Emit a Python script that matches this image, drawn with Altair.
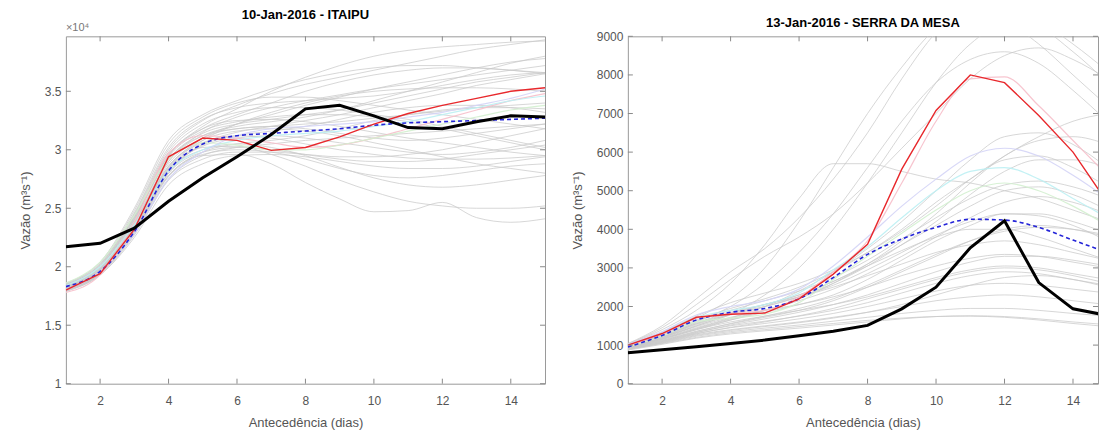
import altair as alt
import pandas as pd

FONT = "Liberation Sans"
DAYS = list(range(1, 16))
XTICKS = [2, 4, 6, 8, 10, 12, 14]

# ---------------- ITAIPU (units of 10^4 m3/s) ----------------
ita_title = "10-Jan-2016 - ITAIPU"
ita_yticks = [1, 1.5, 2, 2.5, 3, 3.5]
ita_black = [2.17, 2.20, 2.33, 2.56, 2.76, 2.94, 3.13, 3.35, 3.38, 3.29, 3.19, 3.18, 3.24, 3.29, 3.28]
ita_red = [1.80, 1.94, 2.32, 2.94, 3.10, 3.08, 2.995, 3.02, 3.11, 3.22, 3.31, 3.38, 3.44, 3.50, 3.53]
ita_blue = [1.83, 1.96, 2.30, 2.82, 3.05, 3.12, 3.14, 3.16, 3.18, 3.21, 3.23, 3.24, 3.25, 3.26, 3.27]
ita_gray = [
    [1.82, 1.98, 2.40, 2.95, 3.20, 3.35, 3.50, 3.62, 3.72, 3.80, 3.85, 3.88, 3.90, 3.92, 3.93],
    [1.85, 2.02, 2.45, 3.00, 3.25, 3.38, 3.48, 3.56, 3.62, 3.68, 3.74, 3.80, 3.86, 3.90, 3.94],
    [1.80, 1.95, 2.35, 2.85, 3.10, 3.22, 3.30, 3.38, 3.45, 3.52, 3.58, 3.64, 3.70, 3.75, 3.78],
    [1.83, 1.99, 2.38, 2.90, 3.15, 3.28, 3.36, 3.42, 3.47, 3.52, 3.56, 3.60, 3.64, 3.68, 3.72],
    [1.81, 1.96, 2.30, 2.80, 3.05, 3.15, 3.20, 3.25, 3.30, 3.36, 3.42, 3.48, 3.55, 3.60, 3.65],
    [1.84, 2.00, 2.42, 2.92, 3.12, 3.18, 3.20, 3.22, 3.24, 3.27, 3.30, 3.33, 3.36, 3.38, 3.40],
    [1.80, 1.94, 2.28, 2.75, 2.95, 3.02, 3.05, 3.08, 3.10, 3.12, 3.14, 3.16, 3.18, 3.20, 3.22],
    [1.86, 2.03, 2.48, 3.05, 3.28, 3.40, 3.45, 3.45, 3.42, 3.38, 3.34, 3.30, 3.26, 3.22, 3.18],
    [1.82, 1.97, 2.36, 2.86, 3.06, 3.12, 3.10, 3.05, 3.00, 2.96, 2.93, 2.92, 2.92, 2.93, 2.95],
    [1.79, 1.93, 2.25, 2.70, 2.88, 2.95, 2.96, 2.94, 2.90, 2.86, 2.84, 2.84, 2.86, 2.90, 2.94],
    [1.81, 1.95, 2.32, 2.82, 3.00, 3.05, 3.02, 2.95, 2.85, 2.76, 2.70, 2.68, 2.70, 2.74, 2.78],
    [1.83, 1.98, 2.36, 2.84, 3.02, 3.03, 2.96, 2.86, 2.74, 2.64, 2.56, 2.52, 2.50, 2.50, 2.52],
    [1.80, 1.94, 2.30, 2.78, 2.95, 2.96, 2.88, 2.72, 2.58, 2.47, 2.48, 2.55, 2.42, 2.38, 2.41],
    [1.82, 1.97, 2.34, 2.83, 3.03, 3.10, 3.12, 3.10, 3.06, 3.02, 2.98, 2.96, 2.98, 3.02, 3.08],
    [1.84, 2.01, 2.43, 2.96, 3.18, 3.25, 3.26, 3.24, 3.20, 3.15, 3.10, 3.06, 3.02, 2.98, 2.95],
    [1.81, 1.96, 2.33, 2.84, 3.08, 3.22, 3.32, 3.40, 3.46, 3.50, 3.52, 3.53, 3.53, 3.52, 3.50],
    [1.85, 2.02, 2.46, 3.02, 3.26, 3.36, 3.40, 3.42, 3.44, 3.46, 3.50, 3.55, 3.60, 3.64, 3.66],
    [1.83, 1.99, 2.40, 2.92, 3.14, 3.22, 3.26, 3.30, 3.34, 3.40, 3.46, 3.52, 3.58, 3.62, 3.66],
    [1.80, 1.95, 2.30, 2.78, 2.98, 3.05, 3.08, 3.12, 3.18, 3.25, 3.30, 3.34, 3.36, 3.36, 3.35],
    [1.82, 1.97, 2.37, 2.88, 3.10, 3.18, 3.20, 3.18, 3.14, 3.10, 3.08, 3.10, 3.14, 3.18, 3.22],
    [1.86, 2.04, 2.50, 3.08, 3.30, 3.42, 3.52, 3.60, 3.66, 3.70, 3.72, 3.72, 3.70, 3.68, 3.66],
    [1.84, 2.00, 2.41, 2.94, 3.16, 3.24, 3.28, 3.30, 3.30, 3.28, 3.24, 3.18, 3.12, 3.06, 3.00],
    [1.81, 1.95, 2.31, 2.80, 2.98, 3.02, 3.00, 2.96, 2.92, 2.90, 2.90, 2.92, 2.96, 3.00, 3.04],
    [1.79, 1.93, 2.27, 2.74, 2.92, 2.98, 2.98, 2.96, 2.94, 2.94, 2.96, 3.00, 3.06, 3.12, 3.18],
    [1.83, 1.98, 2.38, 2.90, 3.12, 3.20, 3.24, 3.28, 3.34, 3.42, 3.50, 3.58, 3.66, 3.74, 3.80],
    [1.85, 2.01, 2.44, 2.98, 3.22, 3.32, 3.36, 3.36, 3.34, 3.30, 3.26, 3.20, 3.14, 3.08, 3.02],
    [1.82, 1.97, 2.35, 2.86, 3.08, 3.16, 3.18, 3.16, 3.12, 3.06, 3.00, 2.94, 2.88, 2.84, 2.80],
    [1.80, 1.94, 2.29, 2.77, 2.96, 3.00, 2.98, 2.92, 2.84, 2.78, 2.76, 2.78, 2.82, 2.86, 2.88],
    [1.84, 2.00, 2.42, 2.95, 3.18, 3.30, 3.40, 3.50, 3.58, 3.64, 3.68, 3.70, 3.70, 3.68, 3.65],
    [1.81, 1.96, 2.33, 2.82, 3.04, 3.12, 3.16, 3.20, 3.26, 3.32, 3.36, 3.38, 3.38, 3.36, 3.32],
]
ita_pale = [
    [1.78, 1.93, 2.38, 2.97, 3.12, 3.10, 3.06, 3.02, 3.04, 3.10, 3.18, 3.26, 3.34, 3.42, 3.48],
    [1.84, 2.00, 2.36, 2.82, 3.00, 3.08, 3.12, 3.14, 3.16, 3.20, 3.24, 3.30, 3.36, 3.42, 3.46],
    [1.86, 2.04, 2.44, 2.92, 3.06, 3.04, 3.00, 3.00, 3.04, 3.10, 3.16, 3.22, 3.28, 3.34, 3.38],
    [1.80, 1.96, 2.28, 2.75, 2.98, 3.12, 3.18, 3.20, 3.22, 3.24, 3.28, 3.32, 3.38, 3.44, 3.52],
]

# ---------------- SERRA DA MESA (m3/s) ----------------
sm_title = "13-Jan-2016 - SERRA DA MESA"
sm_yticks = [0, 1000, 2000, 3000, 4000, 5000, 6000, 7000, 8000, 9000]
sm_black = [800, 880, 960, 1040, 1130, 1240, 1360, 1510, 1940, 2500, 3520, 4220, 2620, 1940, 1770]
sm_red = [1000, 1300, 1720, 1800, 1830, 2200, 2840, 3610, 5560, 7080, 8000, 7800, 6950, 6000, 4700]
sm_blue = [950, 1250, 1650, 1850, 1950, 2200, 2750, 3350, 3750, 4050, 4260, 4240, 4050, 3720, 3400]
sm_gray = [
    [950, 1200, 1500, 1800, 2300, 3000, 4000, 5200, 6500, 7800, 8800, 9300, 9200, 8600, 7800],
    [1000, 1300, 1700, 2200, 3000, 4200, 5600, 7000, 8200, 9200, 9600, 9400, 8800, 8000, 7200],
    [980, 1250, 1600, 2000, 2600, 3400, 4400, 5600, 6800, 7800, 8400, 8600, 8300, 7600, 6800],
    [1020, 1400, 1900, 2600, 3600, 4800, 5700, 5700, 5500, 5300, 5200, 5000, 4800, 4500, 4200],
    [960, 1180, 1450, 1700, 2000, 2400, 2900, 3500, 4200, 5000, 5800, 6400, 6500, 6200, 5600],
    [940, 1150, 1400, 1650, 1900, 2200, 2600, 3100, 3700, 4400, 5200, 5900, 6300, 6400, 6200],
    [1000, 1280, 1650, 1950, 2200, 2500, 2900, 3400, 4000, 4700, 5300, 5800, 5900, 5600, 5100],
    [970, 1220, 1550, 1800, 2050, 2300, 2650, 3100, 3600, 4100, 4600, 5000, 5100, 4900, 4500],
    [950, 1170, 1420, 1650, 1850, 2050, 2300, 2700, 3200, 3700, 4100, 4400, 4400, 4200, 3900],
    [930, 1130, 1360, 1550, 1720, 1900, 2150, 2500, 2900, 3300, 3700, 4000, 4100, 4000, 3800],
    [990, 1240, 1580, 1850, 2050, 2250, 2500, 2800, 3100, 3400, 3600, 3700, 3600, 3400, 3200],
    [960, 1190, 1480, 1720, 1900, 2050, 2250, 2500, 2800, 3050, 3250, 3350, 3300, 3150, 3000],
    [940, 1150, 1400, 1600, 1750, 1900, 2050, 2250, 2500, 2750, 2950, 3050, 3000, 2850, 2700],
    [920, 1110, 1330, 1500, 1620, 1750, 1900, 2100, 2350, 2600, 2800, 2900, 2850, 2700, 2550],
    [910, 1090, 1300, 1450, 1560, 1680, 1820, 2000, 2200, 2400, 2550, 2600, 2550, 2450, 2350],
    [900, 1070, 1270, 1400, 1500, 1600, 1720, 1850, 2000, 2150, 2250, 2300, 2250, 2150, 2050],
    [890, 1050, 1230, 1350, 1440, 1520, 1620, 1720, 1820, 1900, 1950, 1950, 1900, 1820, 1750],
    [880, 1040, 1200, 1320, 1400, 1480, 1560, 1640, 1700, 1740, 1750, 1720, 1650, 1560, 1480],
    [900, 1060, 1250, 1380, 1480, 1580, 1700, 1850, 2050, 2300, 2550, 2750, 2800, 2700, 2500],
    [1010, 1330, 1750, 2100, 2350, 2600, 2950, 3400, 3950, 4600, 5300, 5900, 6400, 6800, 7000],
    [970, 1210, 1530, 1800, 2000, 2250, 2600, 3050, 3600, 4200, 4900, 5500, 5800, 5800, 5600],
    [950, 1160, 1430, 1680, 1900, 2150, 2450, 2850, 3300, 3800, 4300, 4700, 4850, 4700, 4400],
    [1030, 1450, 2050, 2700, 3300, 3800, 4400, 5200, 6100, 7000, 7900, 8500, 8700, 8400, 7900],
    [990, 1260, 1620, 1900, 2150, 2400, 2750, 3200, 3750, 4300, 4800, 5150, 5250, 5100, 4800],
    [930, 1120, 1350, 1560, 1750, 1950, 2200, 2550, 2950, 3350, 3700, 3950, 4050, 4000, 3850],
    [920, 1100, 1320, 1520, 1680, 1850, 2050, 2300, 2600, 2900, 3150, 3300, 3300, 3200, 3050],
    [960, 1200, 1500, 1780, 2000, 2250, 2550, 2950, 3400, 3850, 4200, 4400, 4350, 4100, 3700],
    [1040, 1500, 2200, 2900, 3500, 4300, 5300, 6500, 7900, 9100, 9800, 9800, 9400, 8800, 8100],
    [980, 1230, 1560, 1830, 2050, 2300, 2650, 3050, 3450, 3800, 4000, 4000, 3800, 3500, 3200],
    [900, 1080, 1290, 1460, 1600, 1760, 1950, 2200, 2450, 2700, 2900, 3000, 2950, 2800, 2600],
    [870, 1020, 1180, 1290, 1370, 1440, 1520, 1600, 1680, 1740, 1760, 1740, 1680, 1600, 1530],
]
sm_pale = [
    [980, 1280, 1700, 1820, 1900, 2250, 2900, 3700, 5200, 6800, 7900, 7950, 7200, 6300, 5400],
    [1000, 1320, 1720, 1900, 2050, 2350, 2950, 3550, 4300, 5000, 5500, 5600, 5300, 4800, 4300],
    [950, 1230, 1600, 1700, 1800, 2100, 2700, 3300, 3900, 4500, 5000, 5200, 5000, 4600, 4100],
    [1020, 1350, 1780, 2000, 2150, 2450, 3050, 3800, 4600, 5300, 5900, 6100, 5900, 5400, 4800],
]
pale_colors = ["#f6bfca", "#bdeff3", "#d3efcf", "#d4d4f6"]

GRAY_TXT = "#555555"
H = 348


def long_df(lines, prefix):
    rows = []
    for i, vals in enumerate(lines):
        for d, v in zip(DAYS, vals):
            rows.append({"day": d, "v": v, "m": f"{prefix}{i}"})
    return pd.DataFrame(rows)


def panel(title, gray, pale, red, blue, black, ydomain, yticks, label_expr, xdomain, width, exp_label):
    xs = alt.Scale(domain=xdomain, nice=False, zero=False)
    ys = alt.Scale(domain=ydomain, nice=False, zero=False)
    xax = alt.Axis(values=XTICKS, title="Antecedência (dias)", ticks=False, domain=False, grid=False,
                   labelPadding=12, titlePadding=10, labelFontSize=12, titleFontSize=13,
                   labelColor=GRAY_TXT, titleColor=GRAY_TXT, labelFont=FONT, titleFont=FONT,
                   titleFontWeight="normal")
    yax = alt.Axis(values=yticks, title="Vazão (m³s⁻¹)", ticks=False, domain=False, grid=False,
                   labelPadding=5, titlePadding=12, labelFontSize=12, titleFontSize=13,
                   labelColor=GRAY_TXT, titleColor=GRAY_TXT, labelFont=FONT, titleFont=FONT,
                   titleFontWeight="normal", labelExpr=label_expr)
    X = alt.X("day:Q", scale=xs, axis=xax)
    Y = alt.Y("v:Q", scale=ys, axis=yax)

    g = alt.Chart(long_df(gray, "g")).mark_line(
        color="#c9c9c9", strokeWidth=1, opacity=0.75, interpolate="monotone", clip=True
    ).encode(x=X, y=Y, detail="m:N")

    pdf = long_df(pale, "p")
    pdf["c"] = pdf["m"].map({f"p{i}": c for i, c in enumerate(pale_colors)})
    p = alt.Chart(pdf).mark_line(strokeWidth=1.2, opacity=0.9, interpolate="monotone", clip=True).encode(
        x=X, y=Y, detail="m:N", color=alt.Color("c:N", scale=None))

    def one(vals):
        return pd.DataFrame({"day": DAYS, "v": vals})

    r = alt.Chart(one(red)).mark_line(color="#e8282c", strokeWidth=1.4, clip=True).encode(x=X, y=Y)
    b = alt.Chart(one(blue)).mark_line(color="#2424d8", strokeWidth=1.6, strokeDash=[4, 3],
                                       interpolate="monotone", clip=True).encode(x=X, y=Y)
    k = alt.Chart(one(black)).mark_line(color="black", strokeWidth=3, clip=True).encode(x=X, y=Y)

    # inward tick marks on all four sides (MATLAB box style)
    xt = pd.DataFrame({"day": XTICKS})
    yt = pd.DataFrame({"v": yticks})
    tk = dict(color="#8a8a8a", strokeWidth=1)
    t1 = alt.Chart(xt).mark_rule(**tk).encode(x=X, y=alt.value(H), y2=alt.value(H - 5))
    t2 = alt.Chart(xt).mark_rule(**tk).encode(x=X, y=alt.value(0), y2=alt.value(5))
    t3 = alt.Chart(yt).mark_rule(**tk).encode(y=Y, x=alt.value(0), x2=alt.value(5))
    t4 = alt.Chart(yt).mark_rule(**tk).encode(y=Y, x=alt.value(width), x2=alt.value(width - 5))

    layers = [g, p, b, r, k, t1, t2, t3, t4]
    if exp_label:
        e = alt.Chart(pd.DataFrame({"t": [exp_label]})).mark_text(
            align="left", baseline="bottom", fontSize=11, font=FONT, color="#777777", dx=0, dy=-3
        ).encode(x=alt.value(0), y=alt.value(0), text="t:N")
        layers.append(e)

    return alt.layer(*layers).properties(
        width=width, height=H,
        title=alt.Title(title, fontSize=13, fontWeight="bold", font=FONT, color="black", offset=0),
    )


left = panel(ita_title, ita_gray, ita_pale, ita_red, ita_blue, ita_black,
             [1, 3.97], ita_yticks, "'' + datum.value", [1, 15], 480, "×10⁴")
right = panel(sm_title, sm_gray, sm_pale, sm_red, sm_blue, sm_black,
              [0, 9000], sm_yticks, "format(datum.value, 'd')", [1, 14.73], 471, None)

chart = alt.hconcat(left, right, spacing=24).properties(
    padding={"left": 18, "top": 8, "right": 0, "bottom": 0},
    background="white",
).configure_view(stroke="#9a9a9a", strokeWidth=1)

chart.save("out.html", embed_options={"renderer": "svg", "actions": False})
